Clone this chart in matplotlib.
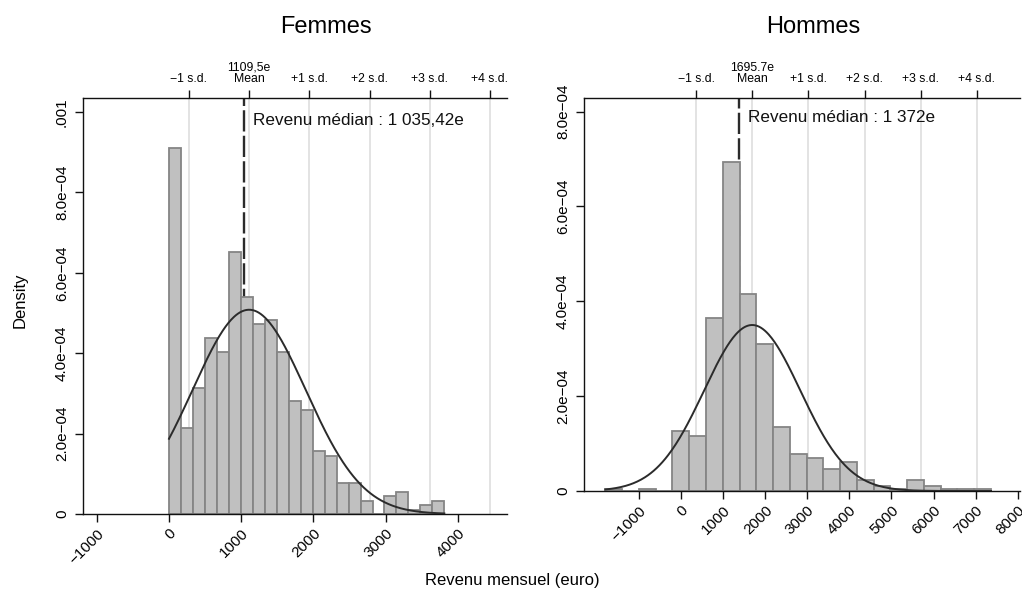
import numpy as np
import matplotlib
matplotlib.use("Agg")
import matplotlib.pyplot as plt

plt.rcParams['font.family'] = ['Liberation Sans', 'DejaVu Sans']

# ---------------- data ----------------
# Femmes
f_bin_start = 0.0
f_bin_width = 165.8
f_density = [9.10e-4, 2.13e-4, 3.14e-4, 4.39e-4, 4.04e-4, 6.51e-4, 5.40e-4, 4.72e-4,
             4.83e-4, 4.04e-4, 2.81e-4, 2.59e-4, 1.57e-4, 1.45e-4, 0.78e-4, 0.78e-4,
             0.32e-4, 0.0, 0.45e-4, 0.55e-4, 0.10e-4, 0.22e-4, 0.32e-4]
f_mean = 1109.5
f_sd_axis = 834.0
f_curve_sd = 785.0
f_median = 1035.42
f_xticks = [-1000, 0, 1000, 2000, 3000, 4000]
f_yticks = [0, 2e-4, 4e-4, 6e-4, 8e-4, 1e-3]
f_yticklabels = ["0", "2.0e\u221204", "4.0e\u221204", "6.0e\u221204", "8.0e\u221204", ".001"]
f_mean_label = "1109,5e"
f_median_label = "Revenu m\u00e9dian : 1 035,42e"

# Hommes
h_bin_start = -1790.0
h_bin_width = 398.0
h_density = [0.05e-4, 0.0, 0.05e-4, 0.0, 1.27e-4, 1.16e-4, 3.64e-4, 6.93e-4,
             4.16e-4, 3.09e-4, 1.35e-4, 0.79e-4, 0.70e-4, 0.47e-4, 0.61e-4, 0.24e-4,
             0.10e-4, 0.04e-4, 0.24e-4, 0.10e-4, 0.04e-4, 0.04e-4, 0.04e-4]
h_mean = 1695.7
h_sd_axis = 1333.0
h_curve_sd = 1140.0
h_median = 1372.0
h_xticks = [-1000, 0, 1000, 2000, 3000, 4000, 5000, 6000, 7000, 8000]
h_yticks = [0, 2e-4, 4e-4, 6e-4, 8e-4]
h_yticklabels = ["0", "2.0e\u221204", "4.0e\u221204", "6.0e\u221204", "8.0e\u221204"]
h_mean_label = "1695.7e"
h_median_label = "Revenu m\u00e9dian : 1 372e"

sd_steps = [-1, 0, 1, 2, 3, 4]
sd_labels = ["\u22121 s.d.", "Mean", "+1 s.d.", "+2 s.d.", "+3 s.d.", "+4 s.d."]

# ---------------- figure ----------------
W, H = 1022, 598
fig = plt.figure(figsize=(W / 100, H / 100), dpi=100)


def px_axes(l, r, t, b):
    return fig.add_axes([l / W, (H - b) / H, (r - l) / W, (b - t) / H])


BAR_FACE = "#c0c0c0"
BAR_EDGE = "#858585"
CURVE = "#2b2b2b"
GRID = "#e3e3e3"


def panel(ax, bin_start, bin_width, dens, mean, sd_axis, curve_sd, median,
          xticks, xlim, yticks, yticklabels, ylim, mean_label, median_label, text_xy):
    n = len(dens)
    lefts = [bin_start + i * bin_width for i in range(n)]
    ax.set_xlim(*xlim)
    ax.set_ylim(*ylim)
    # s.d. grid lines
    sd_pos = [mean + k * sd_axis for k in sd_steps]
    for p in sd_pos:
        ax.axvline(p, color=GRID, lw=1.4, zorder=0)
    # median line (behind bars)
    ax.plot([median, median], [0, ylim[1]], color="#2b2b2b", lw=1.7,
            dashes=(9, 1.8), zorder=1, solid_capstyle='butt')
    # bars
    ax.bar(lefts, dens, width=bin_width, align='edge', color=BAR_FACE,
           edgecolor=BAR_EDGE, linewidth=1.3, zorder=2)
    # normal curve over data range
    xs = np.linspace(bin_start, bin_start + n * bin_width, 400)
    ys = np.exp(-0.5 * ((xs - mean) / curve_sd) ** 2) / (curve_sd * np.sqrt(2 * np.pi))
    ax.plot(xs, ys, color=CURVE, lw=1.4, zorder=3)
    # median text
    ax.text(text_xy[0], text_xy[1], median_label, fontsize=12.3, ha='left',
            va='center', color="#111111", zorder=4)
    # spines
    ax.spines['right'].set_visible(False)
    ax.spines['top'].set_visible(True)
    for s in ('left', 'bottom', 'top'):
        ax.spines[s].set_linewidth(1.0)
        ax.spines[s].set_color("#111111")
    # bottom ticks
    ax.set_xticks(xticks)
    ax.set_xticklabels([str(v).replace('-', '\u2212') for v in xticks],
                       rotation=45, ha='right', rotation_mode='anchor', fontsize=11)
    ax.set_yticks(yticks)
    ax.set_yticklabels(yticklabels, rotation=90, va='center', fontsize=11)
    ax.tick_params(axis='both', direction='out', length=6, width=1.0, color="#111111",
                   top=False, right=False)
    ax.tick_params(axis='x', pad=3)
    ax.tick_params(axis='y', pad=4)
    # top s.d. axis
    top = ax.secondary_xaxis('top')
    top.set_xticks(sd_pos)
    labels = list(sd_labels)
    labels[1] = mean_label + "\n" + "Mean"
    top.set_xticklabels(labels, fontsize=8.8, linespacing=0.95)
    top.tick_params(direction='out', length=6, width=1.0, color="#111111", pad=3)
    top.spines['top'].set_visible(False)


axL = px_axes(83, 507, 98, 514)
panel(axL, f_bin_start, f_bin_width, f_density, f_mean, f_sd_axis, f_curve_sd, f_median,
      f_xticks, (-1191, 4681), f_yticks, f_yticklabels, (0, 1.035e-3),
      f_mean_label, f_median_label, (1163, 9.8e-4))

axR = px_axes(584, 1020, 98, 491)
panel(axR, h_bin_start, h_bin_width, h_density, h_mean, h_sd_axis, h_curve_sd, h_median,
      h_xticks, (-2297, 8052), h_yticks, h_yticklabels, (0, 8.285e-4),
      h_mean_label, h_median_label, (1599, 7.88e-4))

fig.text(326 / W, 1 - 27 / H, "Femmes", fontsize=17, ha='center', va='center')
fig.text(813 / W, 1 - 27 / H, "Hommes", fontsize=17, ha='center', va='center')
fig.text(20 / W, 1 - 300 / H, "Density", fontsize=12, ha='center', va='center', rotation=90)
fig.text(512 / W, 1 - 580 / H, "Revenu mensuel (euro)", fontsize=12, ha='center', va='center')

fig.savefig("out.png", dpi=100)
